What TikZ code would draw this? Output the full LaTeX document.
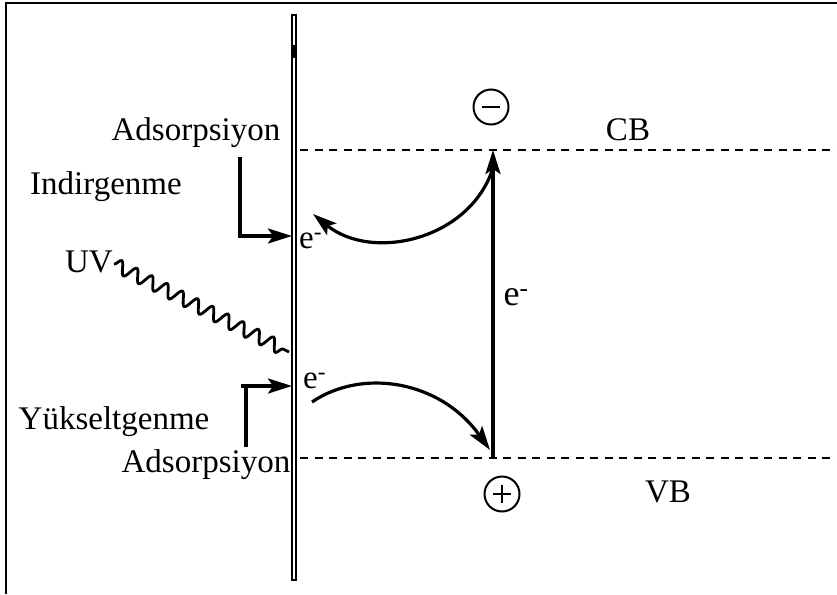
\documentclass[tikz,border=0pt]{standalone}
\usepackage{fontspec}
\setmainfont{Liberation Serif}
\usetikzlibrary{arrows.meta,decorations.pathmorphing}
\begin{document}
\begin{tikzpicture}[x=1pt,y=-1pt,
  lbl/.style={inner sep=0pt,font=\fontsize{33}{38}\selectfont},
  arr/.style={line width=3.2pt,-{Stealth[length=24pt,width=15pt,inset=5pt]}},
  band/.style={line width=2.8pt,dash pattern=on 8pt off 6.5pt},
  frame/.style={line width=2.8pt},
  sign/.style={circle,draw,line width=2pt,minimum size=35pt,inner sep=0pt}]
\useasboundingbox (0,0) rectangle (837,594);
% frame (top and left edges)
\draw[frame] (6,594) -- (6,3) -- (837,3);
% plate
\draw[line width=2.5pt] (292.2,15) rectangle (296,580);
\fill (292,45) rectangle (296.2,58);
% band lines
\coordinate (cbL) at (300,150); \coordinate (cbR) at (837,150);
\coordinate (vbL) at (300,458); \coordinate (vbR) at (837,458);
\draw[band] (cbL) -- (cbR);
\draw[band] (vbL) -- (vbR);
\node[lbl] (cb) at (628,130) {CB};
\node[lbl] (vb) at (668,492) {VB};
% signs
\node[sign] (minus) at (491,107) {};
\draw[line width=2.6pt] ([xshift=-9pt]minus.center) -- ([xshift=9pt]minus.center);
\node[sign] (plus) at (502,494) {};
\draw[line width=2.6pt] ([xshift=-9pt]plus.center) -- ([xshift=9pt]plus.center);
\draw[line width=2.6pt] ([yshift=-9pt]plus.center) -- ([yshift=9pt]plus.center);
% excitation arrow
\coordinate (vbot) at (493,458);
\coordinate (vtop) at (493,150);
\draw[arr] (vbot) -- (vtop);
\node[lbl,font=\fontsize{36}{40}\selectfont] (emid) at (516,297) {e\textsuperscript{-}};
% curved arrows
\coordinate (c1s) at (493,168);
\coordinate (c1e) at (313,214);
\draw[arr] (c1s) .. controls (470,240) and (372,262) .. (c1e);
\coordinate (c2s) at (312,402);
\coordinate (c2e) at (490,450);
\draw[arr] (c2s) .. controls (362,368) and (440,380) .. (c2e);
% labels left
\node[lbl] (ads1) at (196,133) {Adsorpsiyon};
\node[lbl] (ind) at (106,187) {Indirgenme};
\node[lbl] (uv) at (89,262) {UV};
\node[lbl] (yuk) at (114,422) {Yükseltgenme};
\node[lbl] (ads2) at (206,465) {Adsorpsiyon};
\node[lbl,anchor=west] (e1) at (299,241) {e\textsuperscript{-}};
\node[lbl,anchor=west] (e2) at (303,381) {e\textsuperscript{-}};
% brackets
\coordinate (b1a) at (240,157);
\coordinate (b1b) at (292,236);
\draw[arr] (b1a) |- (b1b);
\coordinate (b2a) at (246,447);
\coordinate (b2b) at (246,386);
\coordinate (b2c) at (241,386);
\coordinate (b2d) at (292,386);
\draw[line width=3.2pt] (b2a) -- (b2b);
\draw[arr] (b2c) -- (b2d);
% UV wave
\coordinate (uvs) at (114,264);
\coordinate (uve) at (289,352);
\draw[line width=2.8pt,decorate,decoration={snake,segment length=17pt,amplitude=6.5pt}] (uvs) -- (uve);
\end{tikzpicture}
\end{document}
